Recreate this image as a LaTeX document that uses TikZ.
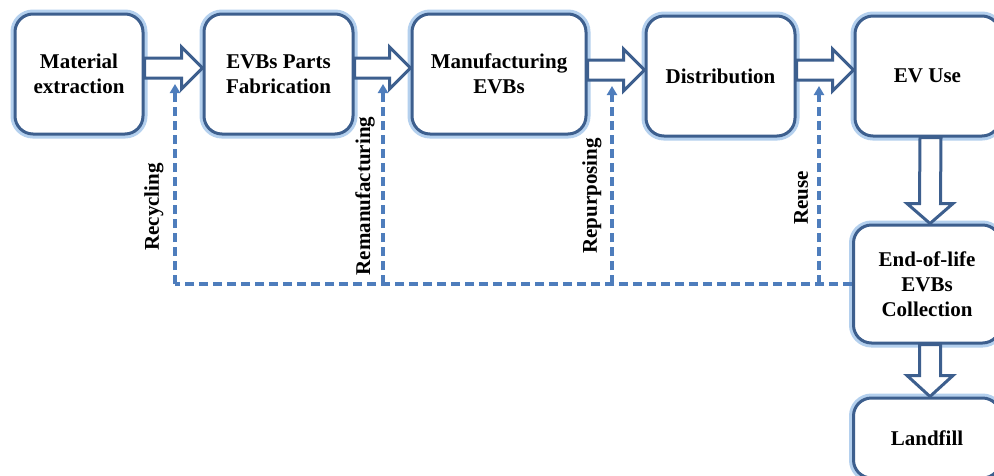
\documentclass[tikz,border=0pt]{standalone}
\usepackage{fontspec}
\setmainfont{Liberation Serif}
\usetikzlibrary{calc,arrows.meta}
\definecolor{boxc}{RGB}{61,95,142}
\definecolor{glowc}{RGB}{180,208,238}
\definecolor{dashc}{RGB}{78,125,188}
\tikzset{
  box/.style={rounded corners=18pt, draw=boxc, line width=3pt, fill=white,
    preaction={draw=glowc, line width=9pt},
    align=center, font=\bfseries\fontsize{21}{25}\selectfont, text=black},
  blk/.style={draw=boxc, line width=3pt, fill=white, line join=miter},
  dsh/.style={draw=dashc, line width=3.2pt, dash pattern=on 9pt off 5pt,
    -{Triangle[length=9pt,width=10pt]}},
  dshline/.style={draw=dashc, line width=3.2pt, dash pattern=on 9pt off 5pt},
  lbl/.style={font=\bfseries\fontsize{21}{24}\selectfont, text=black, rotate=90}
}
\newcommand{\hblk}[2]{\draw[blk] ($(#1.east |- #2.west)+(0,-16)$) -- ($(#2.west)+(-21,-16)$) -- ($(#2.west)+(-21,-27)$) -- ($(#2.west)+(0,-6)$) -- ($(#2.west)+(-21,15)$) -- ($(#2.west)+(-21,4)$) -- ($(#1.east |- #2.west)+(0,4)$) -- cycle;}
\newcommand{\vblk}[3]{\draw[blk] ($(#1.south)+(-7.5,0)$) -- ($(#2.north)+(-7.5,-#3)$) -- ($(#2.north)+(-20,-#3)$) -- ($(#2.north)+(3,0)$) -- ($(#2.north)+(26,-#3)$) -- ($(#2.north)+(13.5,-#3)$) -- ($(#1.south)+(13.5,0)$) -- cycle;}
\begin{document}
\begin{tikzpicture}[x=1pt,y=-1pt]
\useasboundingbox (0,0) rectangle (994,475);
\clip (0,0) rectangle (994,475);
\fill[white] (0,0) rectangle (994,475);

\node[box, minimum width=128pt, minimum height=120pt] (m1) at (79,74) {Material\\extraction};
\node[box, minimum width=149pt, minimum height=120pt] (m2) at (278.5,74) {EVBs Parts\\Fabrication};
\node[box, minimum width=174pt, minimum height=120pt] (m3) at (499,74) {Manufacturing\\EVBs};
\node[box, minimum width=149pt, minimum height=120pt] (m4) at (720.5,76) {Distribution};
\node[box, minimum width=145pt, minimum height=120pt] (m5) at (927.5,76) {EV Use};
\node[box, minimum width=147pt, minimum height=118pt] (m6) at (927,284) {End-of-life\\EVBs\\Collection};
\node[box, minimum width=147pt, minimum height=80pt] (m7) at (927,438) {Landfill};

\coordinate (t1) at (175,84);
\coordinate (t2) at (383,84);
\coordinate (t3) at (612,86);
\coordinate (t4) at (819,86);

\draw[dshline] (m6.west) -- (t1 |- m6.west);
\draw[dsh] (t1 |- m6.west) -- (t1);
\draw[dsh] (t2 |- m6.west) -- (t2);
\draw[dsh] (t3 |- m6.west) -- (t3);
\draw[dsh] (t4 |- m6.west) -- (t4);

\node[lbl] (l1) at (154,207) {Recycling};
\node[lbl] (l2) at (365,196) {Remanufacturing};
\node[lbl] (l3) at (592,196) {Repurposing};
\node[lbl] (l4) at (801,198) {Reuse};

\hblk{m1}{m2}
\hblk{m2}{m3}
\hblk{m3}{m4}
\hblk{m4}{m5}
\vblk{m5}{m6}{20}
\vblk{m6}{m7}{21}
\end{tikzpicture}
\end{document}
